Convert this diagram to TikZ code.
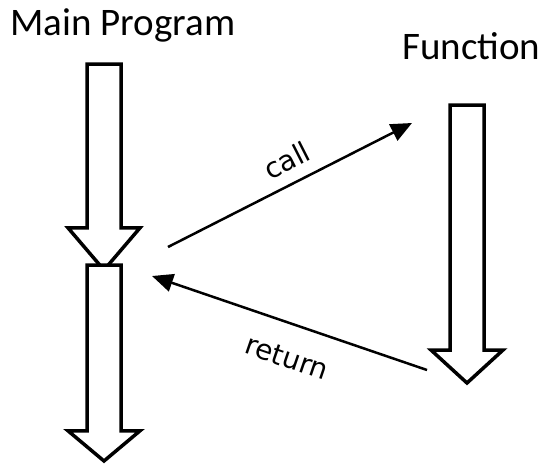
\documentclass[tikz,border=0pt]{standalone}
\usepackage{fontspec}
\setmainfont{Carlito}
\newfontfamily\labelfont{DejaVu Sans}
\usetikzlibrary{shapes.arrows,arrows.meta}

\tikzset{
	flow/.style={single arrow, draw=black, line width=3.5pt, fill=white, rotate=-90, anchor=tail,
		inner xsep=0pt, inner ysep=15.25pt, outer sep=0pt, minimum width=68pt,
		single arrow head extend=19pt, single arrow head indent=0pt},
	jump/.style={line width=2.5pt, -{Triangle[length=21pt,width=18pt]}},
	title/.style={anchor=base west, inner sep=0pt, font=\fontsize{39}{41}\selectfont},
	tag/.style={font=\labelfont\fontsize{28}{30}\selectfont, sloped}
}

\begin{document}
\begin{tikzpicture}[x=1pt, y=-1pt]
	\useasboundingbox (0,0) rectangle (540,463);

	\node[title] (mainname) at (10,35) {Main Program};
	\node[title] (funcname) at (402,59) {Function};

	% block arrows
	\node[flow, minimum height=206pt, single arrow tip angle=81] (main1) at (104,64) {};
	\node[flow, minimum height=196pt, single arrow tip angle=100] (main2) at (104,265) {};
	\node[flow, minimum height=278pt, single arrow tip angle=95] (func) at (467,105) {};

	\coordinate (callfrom) at ([shift={(64,-23)}]main1.tip);
	\coordinate (callto) at ([shift={(-55,18)}]func.tail);
	\coordinate (retfrom) at ([shift={(-40,-13)}]func.tip);
	\coordinate (retto) at ([shift={(48,11)}]main2.tail);

	\draw[jump] (callfrom) -- node[tag, pos=0.53, above=8pt] {call} (callto);
	\draw[jump] (retfrom) -- node[tag, pos=0.47, below=19pt] {return} (retto);
\end{tikzpicture}
\end{document}
